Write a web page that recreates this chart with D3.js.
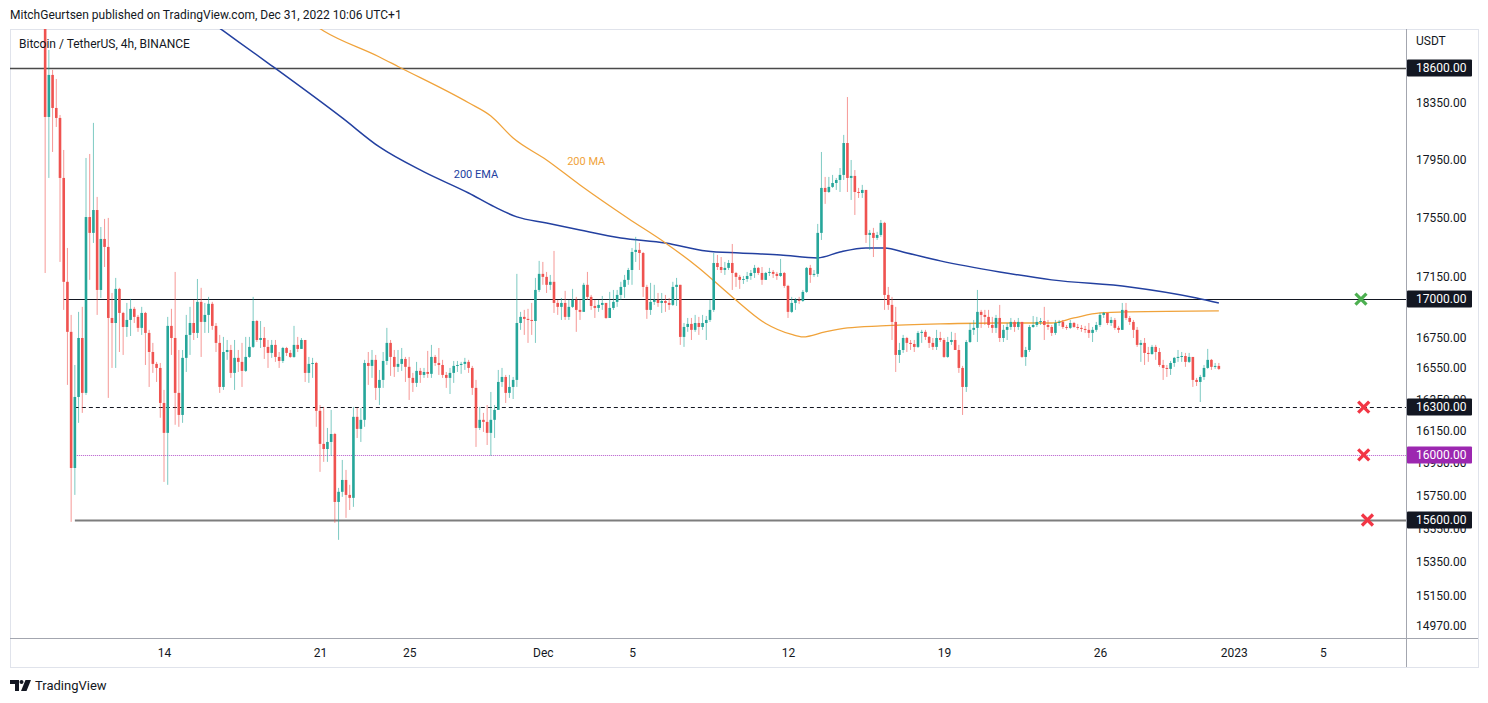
<!DOCTYPE html>
<html>
<head>
  <meta charset="utf-8">
  <script src="https://cdn.jsdelivr.net/npm/d3@7"></script>
  <style type="text/css">
    body {
      margin: 0;
      background: #fff;
    }
    svg text {
      font-family: Roboto, "Noto Sans", Arial, sans-serif;
      fill: #131722;
    }
  </style>
</head>
<body>
  <svg id="chart" width="1488" height="703"></svg>

  <script type="text/javascript">

  // BTCUSDT 4h candles (first bar Nov 8 16:00, one bar every 4 hours)
  const firstOpen = 19100;
  const closes = [
    18249,18550,18313,18242,17821,17115,16785,15919,16365,16745,
    16391,17552,17444,17600,17061,17403,17349,16876,16843,17068,
    16909,16817,16863,16936,16883,16811,16909,16778,16654,16577,
    16551,16327,16138,16824,16745,16391,16251,16616,16765,16843,
    16778,16982,16850,16896,16969,16824,16713,16429,16654,16667,
    16519,16616,16590,16532,16622,16687,16856,16732,16745,16687,
    16648,16700,16622,16596,16680,16648,16622,16700,16674,16732,
    16519,16577,16583,16277,16069,16037,16081,16131,15710,15772,
    15845,15753,15735,16239,16163,16220,16583,16564,16603,16423,
    16474,16596,16713,16622,16558,16577,16609,16558,16487,16455,
    16532,16506,16525,16513,16622,16583,16570,16506,16487,16519,
    16564,16570,16577,16590,16551,16423,16169,16220,16207,16138,
    16220,16283,16461,16493,16391,16429,16474,16843,16883,16870,
    16863,16856,17061,17168,17148,17095,17115,16975,16949,16975,
    16883,16949,16995,16929,16916,17095,17015,16955,16942,16962,
    16975,16876,16942,16982,17028,17081,17128,17194,17315,17329,
    17308,17081,16929,16982,16995,16975,16988,16975,16962,17081,
    17095,16752,16817,16837,16798,16843,16817,16843,16863,16929,
    17241,17214,17194,17208,17241,17174,17148,17128,17134,17154,
    17174,17208,17174,17128,17174,17181,17168,17154,17174,17088,
    16916,16975,16995,16988,17048,17208,17161,17168,17444,17752,
    17724,17759,17786,17807,17842,18065,17821,17835,17724,17717,
    17738,17430,17444,17410,17430,17512,17028,16962,16850,16635,
    16667,16745,16713,16706,16687,16778,16785,16752,16713,16687,
    16745,16732,16622,16719,16732,16667,16551,16429,16719,16798,
    16811,16916,16896,16883,16830,16811,16876,16745,16798,16817,
    16850,16817,16850,16622,16667,16817,16830,16850,16856,16830,
    16817,16778,16843,16850,16817,16811,16843,16817,16811,16804,
    16798,16778,16798,16830,16896,16909,16843,16863,16811,16798,
    16929,16876,16850,16798,16700,16713,16648,16641,16687,16654,
    16570,16551,16545,16583,16616,16622,16628,16590,16622,16474,
    16461,16493,16551,16603,16558,16564,16545
  ];
  const highs = [
    19200,18731,18586,18521,18263,18016,17342,16896,16570,16916,
    16949,17960,17988,18207,17690,17484,17539,17546,17041,17141,
    17075,16916,16975,17002,16949,16896,16949,16916,16798,16713,
    16590,16583,16410,16883,16936,17181,16667,16667,16896,16949,
    16995,17134,17075,16975,17015,16982,16843,16765,16752,16732,
    16700,16732,16667,16713,16752,16752,17015,16863,16856,16817,
    16732,16732,16732,16654,16687,16687,16667,16824,16752,16745,
    16732,16622,16616,16590,16314,16302,16169,16283,16138,15796,
    15969,15907,15815,16302,16295,16295,16603,16654,16667,16635,
    16538,16654,16811,16732,16667,16667,16680,16622,16622,16519,
    16590,16551,16551,16661,16700,16635,16680,16603,16525,16551,
    16596,16596,16590,16616,16603,16564,16474,16302,16264,16314,
    16397,16314,16538,16551,16506,16506,16493,17168,16916,16929,
    16936,16975,17141,17255,17248,17181,17161,17322,16995,17008,
    17055,16995,17068,17015,16995,17108,17181,17028,16995,16995,
    17021,16975,17048,17061,17061,17115,17161,17208,17342,17417,
    17376,17315,17095,17108,17095,17041,17041,17028,17008,17115,
    17141,17095,16843,16876,16876,16896,16883,16896,16889,16995,
    17308,17295,17281,17248,17261,17369,17181,17161,17154,17181,
    17194,17228,17214,17214,17181,17208,17194,17181,17268,17181,
    17095,17015,17008,17015,17061,17214,17228,17194,17505,18002,
    17828,17828,17842,17821,17890,18122,18391,17946,17876,17752,
    17773,17738,17464,17478,17451,17532,17519,17081,17015,16949,
    16713,16765,16752,16732,16732,16791,16798,16798,16758,16745,
    16798,16785,16745,16752,16785,16778,16700,16564,16732,16843,
    16863,17061,16929,16929,16929,16883,16896,16962,16830,16843,
    16876,16863,16876,16850,16687,16830,16889,16883,16876,16949,
    16863,16830,16863,16863,16863,16830,16863,16850,16837,16830,
    16824,16843,16817,16850,16909,16916,16896,16883,16876,16824,
    16975,16975,16889,16863,16817,16732,16745,16687,16700,16700,
    16680,16603,16570,16596,16622,16667,16654,16648,16648,16616,
    16487,16506,16570,16674,16609,16583,16583
  ];
  const lows = [
    17174,17821,18002,18178,17248,16929,16442,15589,15753,16201,
    16264,16378,17128,17376,16896,17008,17214,16359,16551,16551,
    16654,16635,16752,16758,16843,16785,16765,16570,16429,16519,
    16461,16233,15833,15815,16635,16189,16176,16201,16525,16635,
    16732,16745,16622,16778,16778,16798,16654,16391,16410,16603,
    16487,16410,16525,16429,16525,16616,16680,16719,16680,16609,
    16551,16616,16590,16551,16583,16628,16616,16616,16654,16674,
    16461,16455,16487,16176,15895,15957,15957,15994,15583,15480,
    15741,15613,15661,15680,16106,16081,16176,16442,16487,16346,
    16314,16423,16570,16500,16493,16525,16532,16461,16346,16397,
    16429,16455,16487,16487,16487,16564,16506,16487,16423,16384,
    16455,16525,16513,16538,16519,16378,16050,16156,16144,16062,
    15994,16106,16283,16429,16327,16359,16352,16429,16798,16765,
    16713,16765,16713,17048,17095,17041,17061,16909,16896,16863,
    16863,16863,16942,16785,16863,16962,16995,16929,16876,16916,
    16929,16870,16876,16929,16949,16995,17008,17095,17095,17248,
    17194,17015,16870,16896,16962,16949,16909,16916,16929,16955,
    16955,16700,16687,16785,16732,16785,16765,16798,16732,16850,
    16916,17194,17174,17161,17194,17061,17081,17068,17101,17115,
    17128,17141,17161,17095,17128,17154,17141,17128,17148,17075,
    16876,16909,16929,16969,16982,17041,17108,17148,17148,17396,
    17642,17717,17752,17738,17724,17807,17724,17669,17566,17683,
    17683,17376,17329,17281,17396,17417,16929,16929,16732,16525,
    16583,16648,16654,16667,16654,16680,16713,16732,16680,16667,
    16667,16719,16616,16616,16700,16667,16519,16251,16397,16713,
    16765,16719,16811,16830,16811,16778,16778,16719,16719,16732,
    16798,16785,16798,16616,16564,16654,16811,16817,16830,16732,
    16798,16758,16765,16824,16804,16798,16804,16811,16798,16785,
    16778,16745,16719,16785,16817,16876,16830,16824,16798,16778,
    16798,16863,16830,16745,16687,16590,16570,16590,16635,16603,
    16558,16474,16493,16506,16558,16590,16590,16558,16583,16429,
    16435,16333,16474,16545,16538,16545,16538
  ];

  // indicator values at given bars
  const emaBars   = [42, 48, 60, 80, 90, 102, 114, 121, 127, 135, 144, 155, 167, 178, 187, 198, 208, 214, 221, 226, 232, 241, 257, 271, 292, 310, 316];
  const emaValues = [18988, 18870, 18636, 18242, 18037, 17863, 17717, 17621, 17553, 17512, 17464, 17410, 17376, 17322, 17308, 17295, 17275, 17315, 17342, 17342, 17308, 17255, 17181, 17128, 17081, 17008, 16975];
  const maBars    = [69, 75, 90, 95, 114, 120, 126, 135, 144, 157, 167, 176, 185, 194, 201, 204, 210, 216, 225, 241, 256, 271, 277, 284, 292, 316];
  const maValues  = [18980, 18870, 18680, 18611, 18350, 18256, 18100, 17946, 17772, 17542, 17376, 17208, 17015, 16840, 16768, 16752, 16785, 16811, 16824, 16837, 16843, 16843, 16876, 16909, 16916, 16922];

  // drawn levels (price, first bar of the ray; null = full width)
  const levelPrices    = [18600, 17000, 16300, 16000, 15600];
  const levelStartBars = [null, 5, 8, 8, 8];

  // cross markers on the right
  const markPrices = [17000, 16300, 16000, 15600];
  const markDates  = ['2023-01-06T17:00Z', '2023-01-06T20:00Z', '2023-01-06T20:00Z', '2023-01-07T00:00Z'];
  const markHit    = [true, false, false, false];

  const priceTicks = [18350, 17950, 17550, 17150, 16750, 16550, 16350, 16150, 15950, 15750, 15550, 15350, 15150, 14970];
  const timeTickDates  = ['2022-11-14', '2022-11-21', '2022-11-25', '2022-12-01', '2022-12-05', '2022-12-12', '2022-12-19', '2022-12-26', '2023-01-01', '2023-01-05'];
  const timeTickLabels = ['14', '21', '25', 'Dec', '5', '12', '19', '26', '2023', '5'];

  /////////////////////////

  const up = '#26a69a', down = '#ef5350';
  const emaColor = '#2340a0', maColor = '#f0a33b';
  const pane = {left: 10, top: 29, right: 1406, bottom: 638, outerRight: 1478, outerBottom: 667};

  const barMs = 4 * 3600 * 1000;
  const firstBar = Date.UTC(2022, 10, 8, 16);
  const barTime = (i) => new Date(firstBar + i * barMs);

  const candles = closes.map((c, i) => ({
    t: barTime(i),
    o: i ? closes[i - 1] : firstOpen,
    h: highs[i],
    l: lows[i],
    c: c
  }));

  const svg = d3.select('#chart');

  // scales: time is linear across the pane, price axis is logarithmic
  const x = d3.scaleUtc()
    .domain([new Date(Date.UTC(2022, 10, 14)), new Date(Date.UTC(2022, 11, 26))])
    .range([164, 1100]);
  const y = d3.scaleLog().domain([18600, 15600]).range([68, 520]);

  svg.append('defs').append('clipPath').attr('id', 'clip')
    .append('rect')
    .attr('x', pane.left).attr('y', pane.top)
    .attr('width', pane.right - pane.left).attr('height', pane.bottom - pane.top);

  // header text
  svg.append('text').attr('x', 10).attr('y', 19).attr('font-size', 12)
    .text('MitchGeurtsen published on TradingView.com, Dec 31, 2022 10:06 UTC+1');

  // frame
  svg.append('rect')
    .attr('x', pane.left + 0.5).attr('y', pane.top + 0.5)
    .attr('width', pane.outerRight - pane.left).attr('height', pane.outerBottom - pane.top)
    .attr('fill', 'none').attr('stroke', '#e0e3eb');

  const plot = svg.append('g').attr('clip-path', 'url(#clip)');

  // levels
  const levelStyle = [
    {stroke: '#4a4a4a', width: 1.6, dash: null},
    {stroke: '#131722', width: 1, dash: null},
    {stroke: '#131722', width: 1, dash: '4,3'},
    {stroke: '#b657cc', width: 1, dash: '1,1'},
    {stroke: '#7d7d7d', width: 2, dash: null}
  ];
  plot.selectAll('line.level').data(levelPrices).join('line')
    .attr('class', 'level')
    .attr('x1', (d, i) => levelStartBars[i] === null ? pane.left : x(barTime(levelStartBars[i])))
    .attr('x2', pane.right)
    .attr('y1', (d) => Math.round(y(d)) + 0.5)
    .attr('y2', (d) => Math.round(y(d)) + 0.5)
    .attr('stroke', (d, i) => levelStyle[i].stroke)
    .attr('stroke-width', (d, i) => levelStyle[i].width)
    .attr('stroke-dasharray', (d, i) => levelStyle[i].dash);

  // moving averages
  const line = d3.line()
    .x((d) => x(barTime(d[0])))
    .y((d) => y(d[1]))
    .curve(d3.curveMonotoneX);

  plot.append('path')
    .datum(emaBars.map((b, i) => [b, emaValues[i]]))
    .attr('d', line).attr('fill', 'none')
    .attr('stroke', emaColor).attr('stroke-width', 1.5);

  plot.append('path')
    .datum(maBars.map((b, i) => [b, maValues[i]]))
    .attr('d', line).attr('fill', 'none')
    .attr('stroke', maColor).attr('stroke-width', 1.3);

  // candles
  plot.selectAll('line.wick').data(candles).join('line')
    .attr('class', 'wick')
    .attr('x1', (d) => x(d.t)).attr('x2', (d) => x(d.t))
    .attr('y1', (d) => y(d.h)).attr('y2', (d) => y(d.l))
    .attr('stroke', (d) => d.c >= d.o ? up : down)
    .attr('stroke-opacity', 0.6);

  plot.selectAll('rect.body').data(candles).join('rect')
    .attr('class', 'body')
    .attr('x', (d) => x(d.t) - 1.3)
    .attr('width', 2.6)
    .attr('y', (d) => y(Math.max(d.o, d.c)))
    .attr('height', (d) => Math.max(1, Math.abs(y(d.o) - y(d.c))))
    .attr('fill', (d) => d.c >= d.o ? up : down);

  // indicator labels
  plot.append('text')
    .attr('x', x(barTime(110))).attr('y', y(17845)).attr('dy', '0.35em')
    .attr('font-size', 11).style('fill', emaColor).text('200 EMA');
  plot.append('text')
    .attr('x', x(barTime(140)) + 2).attr('y', y(17940)).attr('dy', '0.35em')
    .attr('font-size', 11).style('fill', maColor).text('200 MA');

  // cross marks
  const marks = plot.selectAll('g.mark').data(markPrices).join('g')
    .attr('class', 'mark')
    .attr('transform', (d, i) => `translate(${x(new Date(markDates[i]))},${y(d)})`)
    .attr('stroke', (d, i) => markHit[i] ? '#4caf50' : '#f23645')
    .attr('stroke-width', 3.2);
  marks.append('line').attr('x1', -5.5).attr('y1', -5.5).attr('x2', 5.5).attr('y2', 5.5);
  marks.append('line').attr('x1', -5.5).attr('y1', 5.5).attr('x2', 5.5).attr('y2', -5.5);

  // legend title
  svg.append('text').attr('x', 19).attr('y', 48).attr('font-size', 12)
    .text('Bitcoin / TetherUS, 4h, BINANCE');

  // separators
  svg.append('line')
    .attr('x1', pane.right + 0.5).attr('x2', pane.right + 0.5)
    .attr('y1', pane.top).attr('y2', pane.outerBottom)
    .attr('stroke', '#a3a6af');
  svg.append('line')
    .attr('x1', pane.left).attr('x2', pane.outerRight)
    .attr('y1', pane.bottom + 0.5).attr('y2', pane.bottom + 0.5)
    .attr('stroke', '#a3a6af');

  // price axis
  const yaxis = d3.axisRight(y).tickValues(priceTicks)
    .tickFormat(d3.format('.2f')).tickSize(0).tickPadding(10);
  const g_yaxis = svg.append('g').attr('transform', `translate(${pane.right},0)`).call(yaxis);
  g_yaxis.select('.domain').remove();
  g_yaxis.selectAll('text').attr('font-size', 12).attr('font-family', null).style('fill', '#131722');

  svg.append('text').attr('x', 1416).attr('y', 45).attr('font-size', 12).text('USDT');

  // level price boxes (drawn over the axis labels, as in the picture)
  const boxColor = ['#131722', '#131722', '#131722', '#9c27b0', '#131722'];
  const boxes = svg.selectAll('g.box').data(levelPrices).join('g')
    .attr('class', 'box')
    .attr('transform', (d) => `translate(${pane.right + 1},${Math.round(y(d))})`);
  boxes.append('rect')
    .attr('x', 0).attr('y', -8.5).attr('width', 65).attr('height', 17).attr('rx', 1)
    .attr('fill', (d, i) => boxColor[i]);
  boxes.append('text')
    .attr('x', 9).attr('dy', '0.36em').attr('font-size', 12)
    .style('fill', '#fff')
    .text((d) => d3.format('.2f')(d));

  // time axis
  const xaxis = d3.axisBottom(x)
    .tickValues(timeTickDates.map((d) => new Date(d + 'T00:00Z')))
    .tickFormat((d, i) => timeTickLabels[i]).tickSize(0).tickPadding(10);
  const g_xaxis = svg.append('g').attr('transform', `translate(0,${pane.bottom})`).call(xaxis);
  g_xaxis.select('.domain').remove();
  g_xaxis.selectAll('text').attr('font-size', 12).attr('font-family', null).style('fill', '#131722');

  // footer logo
  const logo = svg.append('g').attr('fill', '#131722');
  logo.append('path').attr('d', 'M10,680 H19 V691 H15 V684 H10 Z');
  logo.append('circle').attr('cx', 21.5).attr('cy', 682).attr('r', 2);
  logo.append('path').attr('d', 'M25.5,680 H31 L26.5,691 H21 Z');
  svg.append('text').attr('x', 35).attr('y', 690).attr('font-size', 13).text('TradingView');

  </script>
</body>
</html>
